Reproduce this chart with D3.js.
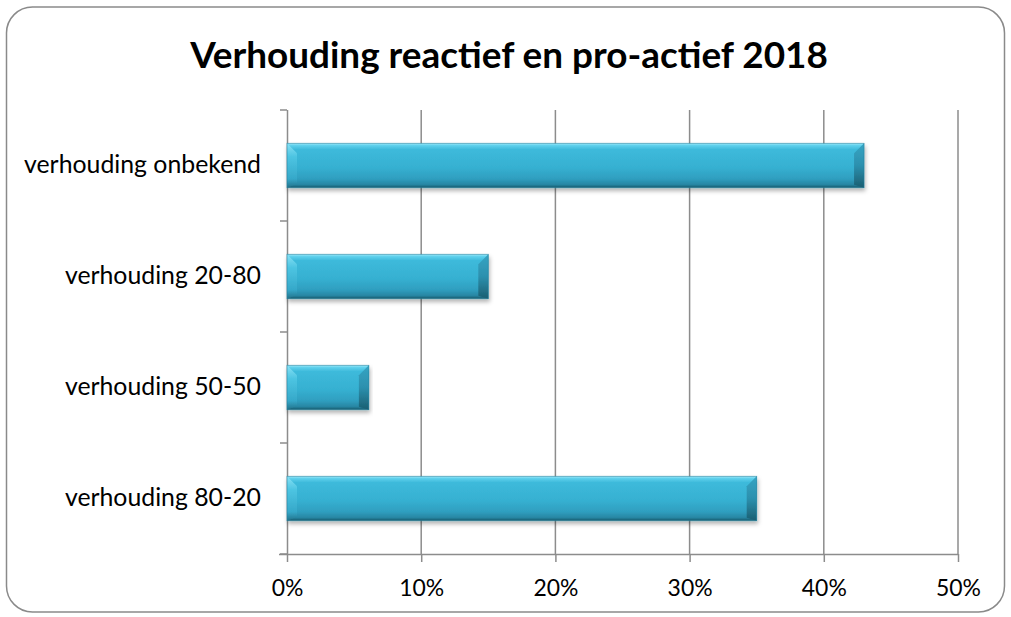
<!DOCTYPE html>
<html>
<head>
<meta charset="utf-8">
<script src="https://cdn.jsdelivr.net/npm/d3@7"></script>
<style>
  html, body { margin: 0; padding: 0; background: #fff; }
  svg { display: block; }
  text { font-family: Lato, "Open Sans", "Liberation Sans", sans-serif; fill: #000; }
</style>
</head>
<body>
<svg id="chart" width="1011" height="617"></svg>
<script>
// ---- data ----
const title = "Verhouding reactief en pro-actief 2018";
const categories = ["verhouding onbekend", "verhouding 20-80", "verhouding 50-50", "verhouding 80-20"];
const values = [0.43, 0.15, 0.061, 0.35];
const xTicks = [0, 0.1, 0.2, 0.3, 0.4, 0.5];

// ---- layout ----
const plot = { left: 287, right: 958, top: 110, bottom: 554 };
const svg = d3.select("#chart");

const defs = svg.append("defs");
const face = defs.append("linearGradient").attr("id", "face").attr("x1", 0).attr("y1", 0).attr("x2", 0).attr("y2", 1);
[["0%", "#9be9f9"], ["5%", "#5fd0ec"], ["14%", "#3dbadb"], ["55%", "#36b0d1"], ["80%", "#2f9ebf"], ["93%", "#2886a3"], ["100%", "#195a6c"]]
  .forEach(([o, c]) => face.append("stop").attr("offset", o).attr("stop-color", c));
const leftG = defs.append("linearGradient").attr("id", "leftbev").attr("x1", 0).attr("y1", 0).attr("x2", 0).attr("y2", 1);
[["0%", "#8ee4f7"], ["30%", "#4fc6e3"], ["80%", "#36a9ca"], ["100%", "#22728a"]]
  .forEach(([o, c]) => leftG.append("stop").attr("offset", o).attr("stop-color", c));
const rightG = defs.append("linearGradient").attr("id", "rightbev").attr("x1", 0).attr("y1", 0).attr("x2", 0).attr("y2", 1);
[["0%", "#36a4c3"], ["50%", "#2c90ae"], ["100%", "#1b5e71"]]
  .forEach(([o, c]) => rightG.append("stop").attr("offset", o).attr("stop-color", c));
const sh = defs.append("filter").attr("id", "shadow").attr("x", "-5%").attr("y", "-20%").attr("width", "110%").attr("height", "160%");
sh.append("feDropShadow").attr("dx", 1).attr("dy", 3).attr("stdDeviation", 2.2).attr("flood-color", "#000").attr("flood-opacity", 0.3);

// outer border
svg.append("rect")
  .attr("x", 6.5).attr("y", 7).attr("width", 998).attr("height", 605)
  .attr("rx", 26).attr("ry", 26)
  .attr("fill", "#fff").attr("stroke", "#8a8a8a").attr("stroke-width", 1.5);

function fit(sel, target) {
  const w = sel.node().getComputedTextLength();
  const fs = parseFloat(sel.attr("font-size"));
  sel.attr("font-size", (fs * target / w).toFixed(2));
}

// title
const t = svg.append("text")
  .attr("x", 509).attr("y", 68)
  .attr("text-anchor", "middle")
  .attr("font-weight", "bold")
  .attr("font-size", 34)
  .text(title);
fit(t, 638);

// scales
const x = d3.scaleLinear().domain([0, 0.5]).range([plot.left, plot.right]);
const y = d3.scaleBand().domain(categories).range([plot.top, plot.bottom]).paddingInner(0.6).paddingOuter(0.3);
const yb = d3.scaleBand().domain(categories).range([plot.top, plot.bottom]);

// gridlines
svg.append("g").selectAll("line").data(xTicks.filter(d => d > 0)).join("line")
  .attr("x1", d => x(d)).attr("x2", d => x(d))
  .attr("y1", plot.top).attr("y2", plot.bottom)
  .attr("stroke", "#8c8c8c").attr("stroke-width", 1.5);

// x axis
const xAxis = d3.axisBottom(x).tickValues(xTicks).tickFormat(d3.format(".0%")).tickSize(8).tickPadding(18);
const gx = svg.append("g").attr("transform", `translate(0,${plot.bottom})`).call(xAxis);
gx.select(".domain").attr("stroke", "#8c8c8c").attr("stroke-width", 1.5).attr("d", `M${plot.left - 8},0.5H${plot.right}`);
gx.selectAll(".tick line").attr("stroke", "#8c8c8c").attr("stroke-width", 1.5);
gx.selectAll(".tick text").attr("font-size", 22).attr("fill", "#000").attr("font-family", "Lato, 'Open Sans', sans-serif");

// y axis
const yAxis = d3.axisLeft(yb).tickSize(0).tickPadding(26);
const gy = svg.append("g").attr("transform", `translate(${plot.left},0)`).call(yAxis);
gy.select(".domain").attr("stroke", "#8c8c8c").attr("stroke-width", 1.5).attr("d", `M0.5,${plot.top}V${plot.bottom}`);
gy.selectAll(".tick text").attr("font-size", 22).attr("fill", "#000").attr("font-family", "Lato, 'Open Sans', sans-serif");
const bounds = categories.map(c => yb(c)).concat([plot.bottom]);
gy.append("g").selectAll("line").data(bounds).join("line")
  .attr("x1", -7).attr("x2", 0).attr("y1", d => d).attr("y2", d => d)
  .attr("stroke", "#8c8c8c").attr("stroke-width", 1.5);

// fit label font sizes
const lab0 = gy.selectAll(".tick text").filter(d => d === categories[0]);
const w0 = lab0.node().getComputedTextLength();
gy.selectAll(".tick text").attr("font-size", (22 * 237 / w0).toFixed(2));
const tick50 = gx.selectAll(".tick text").filter(d => d === 0.5);
const wt = tick50.node().getComputedTextLength();
gx.selectAll(".tick text").attr("font-size", (22 * 45 / wt).toFixed(2));

// bars
const bev = 10;
const bars = svg.append("g").selectAll("g.bar").data(categories.map((c, i) => ({ c, v: values[i] }))).join("g")
  .attr("class", "bar").attr("filter", "url(#shadow)");
bars.each(function (d) {
  const g = d3.select(this);
  const x0 = x(0), x1 = x(d.v), y0 = y(d.c), h = y.bandwidth(), y1 = y0 + h;
  g.append("rect").attr("x", x0).attr("y", y0).attr("width", x1 - x0).attr("height", h).attr("fill", "url(#face)");
  g.append("path")
    .attr("d", `M${x0},${y0}L${x0 + bev},${y0 + bev}L${x0 + bev},${y1 - 4}L${x0},${y1}Z`)
    .attr("fill", "url(#leftbev)").attr("opacity", 0.9);
  g.append("path")
    .attr("d", `M${x1},${y0}L${x1 - bev},${y0 + bev}L${x1 - bev},${y1 - 3}L${x1},${y1}Z`)
    .attr("fill", "url(#rightbev)");
  g.append("rect").attr("x", x0).attr("y", y0).attr("width", x1 - x0).attr("height", h)
    .attr("fill", "none").attr("stroke", "#23809c").attr("stroke-width", 0.8).attr("stroke-opacity", 0.7);
});
</script>
</body>
</html>
